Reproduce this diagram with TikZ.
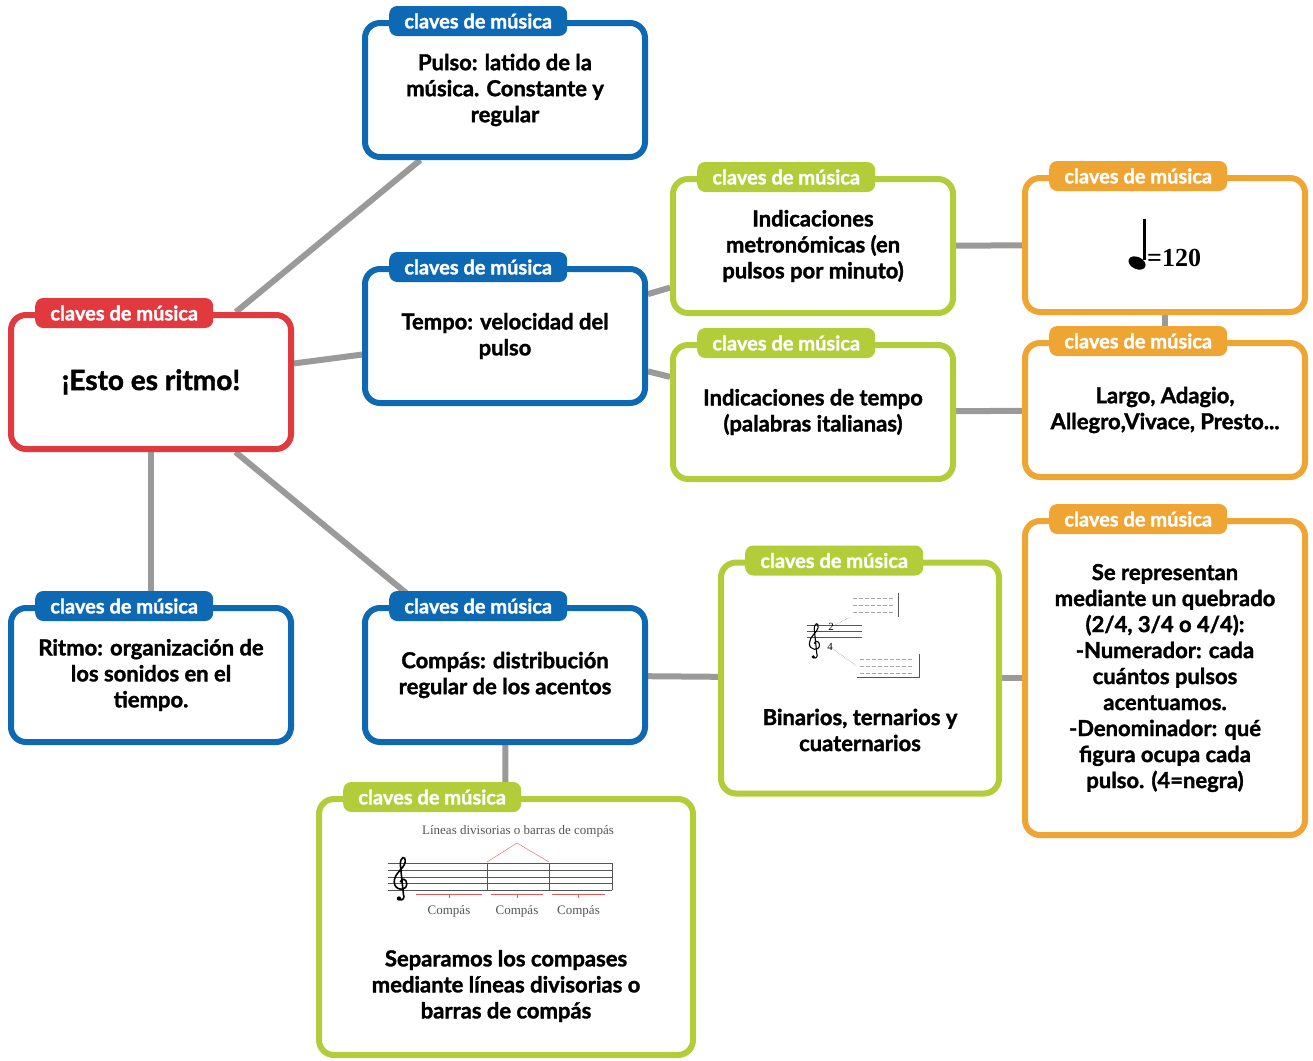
\documentclass[tikz,border=0pt]{standalone}
\usepackage{fontspec}
\setmainfont{Lato}[BoldFeatures={FakeBold=1.5}]
\newfontfamily\scorefont{Liberation Serif}
\usetikzlibrary{backgrounds}
\definecolor{mapRed}{HTML}{E2393F}
\definecolor{mapBlue}{HTML}{0E69B4}
\definecolor{mapGreen}{HTML}{B3CD3A}
\definecolor{mapOrange}{HTML}{EFA534}
\definecolor{linkGray}{HTML}{9A9A9A}
\definecolor{scoreGray}{HTML}{555555}
\definecolor{scoreRed}{HTML}{E05A5A}

\tikzset{
  mapbox/.style={draw=#1, line width=6pt, rounded corners=15pt, fill=white,
    minimum width=280pt, minimum height=134pt, inner sep=0pt, align=center,
    font=\fontsize{22}{26}\selectfont\bfseries},
  tabbox/.style={fill=#1, rounded corners=8pt, minimum width=178pt,
    minimum height=30pt, inner sep=0pt, text=white, anchor=west,
    font=\fontsize{20}{22}\selectfont\bfseries},
  link/.style={draw=linkGray, line width=6pt},
  bodytext/.style={align=center, inner sep=0pt, font=\fontsize{22}{26}\selectfont\bfseries},
  smallserif/.style={font=\scorefont\fontsize{13}{13}\selectfont, text=scoreGray, inner sep=0pt},
  % treble clef, origin on the bottom staff line, unit = one staff space
  pics/trebleclef/.style={code={
    \fill (-0.15,-1.25) circle (0.32);
    \draw (-0.15,-1.35) .. controls (0.4,-1.7) and (0.75,-1.1) .. (0.5,-0.6)
      -- (0.05,3.7) .. controls (0.0,4.9) and (0.85,5.2) .. (0.75,4.1)
      .. controls (0.65,3.2) and (-0.85,2.5) .. (-0.85,1.2)
      .. controls (-0.85,-0.1) and (0.95,-0.25) .. (1.0,0.9)
      .. controls (1.0,1.7) and (0.15,1.8) .. (0.05,1.15);
  }},
}

\begin{document}
\begin{tikzpicture}[x=1pt, y=-1pt]
    \useasboundingbox (0,0) rectangle (1313,1060);

    % boxes
    \node[mapbox=mapRed, font=\fontsize{28}{32}\selectfont\bfseries] (root) at (151,382) {¡Esto es ritmo!};
    \node[mapbox=mapBlue] (pulso) at (505,90) {Pulso: latido de la\\música. Constante y\\regular};
    \node[mapbox=mapBlue] (tempo) at (505,336) {Tempo: velocidad del\\pulso};
    \node[mapbox=mapBlue] (ritmo) at (151,675) {Ritmo: organización de\\los sonidos en el\\tiempo.};
    \node[mapbox=mapBlue] (compas) at (505,675) {Compás: distribución\\regular de los acentos};
    \node[mapbox=mapGreen] (metron) at (813,246) {Indicaciones\\metronómicas (en\\pulsos por minuto)};
    \node[mapbox=mapGreen] (italian) at (813,412) {Indicaciones de tempo\\(palabras italianas)};
    \node[mapbox=mapOrange] (bpm) at (1165,245) {};
    \node[mapbox=mapOrange] (largo) at (1165,410) {Largo, Adagio,\\Allegro,Vivace, Presto...};
    \node[mapbox=mapGreen, minimum width=278pt, minimum height=231pt] (binarios) at (860,678) {};
    \node[mapbox=mapOrange, minimum height=314pt] (fraction) at (1165,678)
      {Se representan\\mediante un quebrado\\(2/4, 3/4 o 4/4):\\-Numerador: cada\\cuántos pulsos\\acentuamos.\\-Denominador: qué\\figura ocupa cada\\pulso. (4=negra)};
    \node[mapbox=mapGreen, minimum width=374pt, minimum height=256pt] (barras) at (506,927) {};

    % tabs
    \foreach \boxname/\col in {root/mapRed, pulso/mapBlue, tempo/mapBlue, ritmo/mapBlue,
        compas/mapBlue, metron/mapGreen, italian/mapGreen, bpm/mapOrange,
        largo/mapOrange, binarios/mapGreen, fraction/mapOrange, barras/mapGreen}
      \node[tabbox=\col] (\boxname-tab) at ([xshift=27pt,yshift=-1pt]\boxname.north west) {claves de música};

    % links
    \begin{pgfonlayer}{background}
      \draw[link] (root) -- (pulso);
      \draw[link] (root) -- (tempo);
      \draw[link] (root) -- (ritmo);
      \draw[link] (root) -- (compas);
      \draw[link] (tempo) -- (metron);
      \draw[link] (tempo) -- (italian);
      \draw[link] (metron) -- (bpm);
      \draw[link] (italian) -- (largo);
      \draw[link] (bpm) -- (largo);
      \draw[link] (compas) -- (binarios);
      \draw[link] (binarios) -- (fraction);
      \draw[link] (compas) -- (barras);
    \end{pgfonlayer}

    % quarter note = 120
    \fill[rotate around={-25:(1137,263)}] (1137,263) ellipse (9 and 6);
    \draw[line width=2.5pt] (1144.5,260) -- (1144.5,219);
    \node[anchor=base west, inner sep=0pt, font=\scorefont\bfseries\fontsize{26}{26}\selectfont] (bpmText) at (1147,266) {=120};

    % binarios: small score
    \foreach \y in {625,631,637} \draw[scoreGray, line width=0.8pt] (807,\y) -- (862,\y);
    \path (814,650) pic[x=5.5pt, y=5.5pt, line width=1.1pt] {trebleclef};
    \node[smallserif, text=black, font=\scorefont\fontsize{11}{11}\selectfont] (numB) at (831,627) {2};
    \node[smallserif, text=black, font=\scorefont\fontsize{11}{11}\selectfont] (denB) at (830,647) {4};
    \node[inner sep=0pt, minimum width=48pt, minimum height=24pt] (noteB1) at (874,605) {};
    \node[inner sep=0pt, minimum width=62pt, minimum height=23pt] (noteB2) at (888,666) {};
    \draw[scoreGray, line width=1pt] (noteB1.north east) -- (noteB1.south east);
    \draw[scoreGray, line width=0.8pt] (noteB2.north east) -- (noteB2.south east) -- (noteB2.south west);
    \foreach \y in {-7,0,7} {
      \draw[gray!70, line width=1pt, dash pattern=on 4pt off 2pt] ([xshift=3pt,yshift=\y pt]noteB1.west) -- ([xshift=-4pt,yshift=\y pt]noteB1.east);
      \draw[gray!70, line width=1pt, dash pattern=on 4pt off 2pt] ([xshift=3pt,yshift=\y pt]noteB2.west) -- ([xshift=-6pt,yshift=\y pt]noteB2.east);
    }
    \draw[scoreGray, densely dotted] (numB) -- (noteB1.south west);
    \draw[scoreGray, densely dotted] (denB) -- (noteB2.west);
    \node[bodytext] (binText) at (860,730) {Binarios, ternarios y\\cuaternarios};

    % barras: score with bar lines
    \foreach \y in {863,870,877,883,890} \draw[scoreGray, line width=0.8pt] (388,\y) -- (612,\y);
    \foreach \x in {487,549,612} \draw[scoreGray, line width=1pt] (\x,863) -- (\x,890);
    \path (400,890) pic[x=6.8pt, y=6.8pt, line width=1.6pt] {trebleclef};
    \node[smallserif] (barLabel) at (518,831) {Líneas divisorias o barras de compás};
    \draw[scoreRed] (487,862) -- (517,843) -- (549,862);
    \foreach \a/\b/\n in {416/482/1, 491/543/2, 552/605/3} {
      \draw[scoreRed] (\a,894) -- (\b,894);
      \draw[scoreRed] ({(\a+\b)/2},894) -- ++(0,4);
      \node[smallserif] (measure\n) at ({(\a+\b)/2},911) {Compás};
    }
    \node[bodytext] (barText) at (506,986) {Separamos los compases\\mediante líneas divisorias o\\barras de compás};
\end{tikzpicture}
\end{document}
